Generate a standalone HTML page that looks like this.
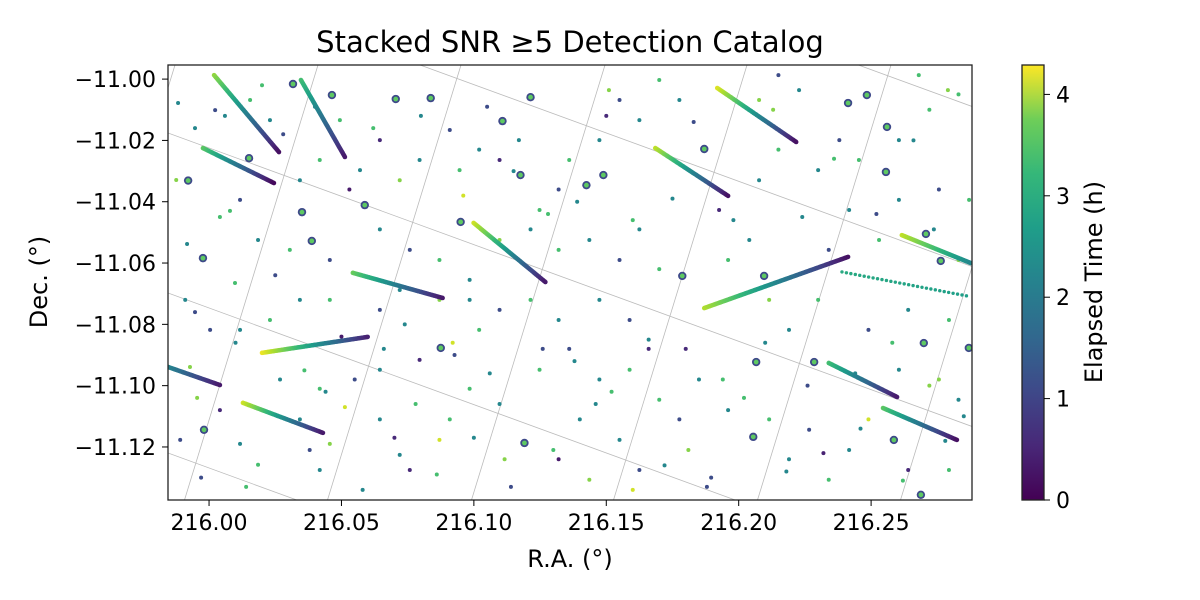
<!DOCTYPE html>
<html><head><meta charset="utf-8"><style>
html,body{margin:0;padding:0;background:#fff;overflow:hidden;width:1200px;height:600px}
svg{display:block}
svg text{font-family:"DejaVu Sans","Liberation Sans",sans-serif;fill:#000}
</style></head><body>
<svg id="chart" width="1200" height="600" viewBox="0 0 1200 600">
<defs>
<linearGradient id="vir" x1="0" y1="1" x2="0" y2="0">
<stop offset="0" stop-color="#440154"/><stop offset="0.125" stop-color="#482878"/><stop offset="0.25" stop-color="#3e4989"/><stop offset="0.375" stop-color="#31688e"/><stop offset="0.5" stop-color="#26828e"/><stop offset="0.625" stop-color="#1f9e89"/><stop offset="0.75" stop-color="#35b779"/><stop offset="0.875" stop-color="#6ece58"/><stop offset="1" stop-color="#fde725"/>
</linearGradient>
<clipPath id="plotclip"><rect x="168" y="65" width="804" height="435"/></clipPath>
</defs>
<text x="570" y="52" font-size="29" text-anchor="middle">Stacked SNR ≥5 Detection Catalog</text>
<g id="grid" clip-path="url(#plotclip)"></g>
<g id="marks" clip-path="url(#plotclip)"></g>
<rect x="168" y="65" width="804" height="435" fill="none" stroke="#222" stroke-width="1.3"/>
<g id="axes"></g>
<text x="570" y="567" font-size="24" text-anchor="middle">R.A. (°)</text>
<text transform="translate(47,282) rotate(-90)" font-size="24" text-anchor="middle">Dec. (°)</text>
<rect x="1022" y="65" width="22" height="435" fill="url(#vir)" stroke="#222" stroke-width="1.3"/>
<g id="cbticks"></g>
<text transform="translate(1102,282) rotate(-90)" font-size="24" text-anchor="middle">Elapsed Time (h)</text>
</svg>
<script>
// offsets: RA in millidegrees from 216, Dec in millidegrees from -11
const xTicks=[216.00,216.05,216.10,216.15,216.20,216.25];
const yTicks=[-11.00,-11.02,-11.04,-11.06,-11.08,-11.10,-11.12];
const cTicks=[0,1,2,3,4];
const streakRa0=[1.9,-2.3,34.7,99.9,54.3,20,-15.5,12.8,191.9,168.5,261.6,187,239,234,254.5];
const streakRa1=[26.4,24.5,51.3,127,88.2,59.9,4.1,43,221.7,196,287.6,241.3,286,259.8,282.4];
const streakDec0=[1.3,-22.5,-0.3,-46.9,-63.2,-89.3,-93.9,-105.6,-2.9,-22.5,-50.9,-74.7,-62.9,-92.6,-107.3];
const streakDec1=[-23.8,-33.9,-25.4,-66.2,-71.4,-84.1,-99.8,-115.4,-20.5,-38.1,-60,-58,-70.7,-103.7,-117.7];
const streakT0=[3.6,3.2,3.0,4.0,3.3,4.2,2.0,4.0,4.1,3.9,3.9,3.8,2.6,3.0,3.2];
const streakT1=[0.2,0.1,0.3,0.3,0.3,0.4,0.3,0.3,0.2,0.2,2.0,0.2,2.4,0.3,0.2];
const streakDotted=[0,0,0,0,0,0,0,0,0,0,0,0,1,0,0];
const srcRa=[31.7,46.4,70.5,83.7,110.8,121.4,15.1,-7.9,58.8,35.1,95.0,117.6,-2.3,38.8,248.4,241.3,256.0,187.0,148.9,142.5,255.6,270.7,276.3,209.6,178.7,205.5,206.6,228.5,269.9,258.6,119.1,-1.9,87.5,286.9,268.8];
const srcDec=[-1.6,-5.2,-6.5,-6.2,-13.7,-5.9,-25.8,-33.1,-41.1,-43.4,-46.6,-31.3,-58.4,-52.8,-5.2,-7.8,-15.6,-22.8,-31.3,-34.6,-30.3,-50.5,-59.3,-64.2,-64.2,-116.7,-92.3,-92.3,-86.1,-117.7,-118.7,-114.4,-87.7,-87.7,-135.6];
const dotRa=[-11.7,-5.3,2.3,-12.4,-8.3,4.1,7.9,-9,-5.3,9.8,-7.2,-4.5,4.1,11.7,-10.9,18.5,34.3,38,41.8,45.6,51.3,55,64.5,72,75.8,90.9,98.4,87,79.5,73.9,92.7,102,109.7,111.6,132,140,143.6,155,162.5,170,177.6,185,189.6,181,196,211.5,219,226.6,234,241.7,249,264,279.4,283,275.6,260.5,249,264,279.4,283,273.7,287,275.6,260.5,253,241.7,234,230,219,211.5,204,196,192.6,207.7,215,230,238,245.4,260.5,272,279,268,222.8,215,207.7,177.6,170,162.5,155,147.4,136,132,124.8,117,109.7,102,94.6,90.9,79.5,72,64.5,57,49.4,41.8,34.3,23,15.5,11.7,18.5,30.5,45.6,64.5,75.8,87,98.4,109.7,121.4,132,143.6,155,162.5,170,147.4,158.8,132,121.4,109.7,98.4,87,72,64.5,45.6,34.3,23,11.7,0.4,26.8,41.8,64.5,124.8,136,147.4,158.8,166,151,
 6,20,28,40,53,62,80,96,105,115,128,139,150,160,175,183,198,213,224,236,252,266,283,10,25,36,50,66,78,92,106,126,138,152,166,180,194,210,226,244,258,272,285,-3,14,44,58,70,86,100,114,130,146,160,172,188,202,218,232,246,262,278];
const dotDec=[-7.8,-16,-10.1,-32.9,-53.8,-45,-43,-72,-76,-66.5,-93.9,-104,-108,-119,-117.7,-125.8,-111,-121,-127.5,-119,-107,-98,-111,-122.6,-127.5,-111,-101,-117.7,-91.6,-80,-90,-81.8,-106,-124,-124,-111,-130.7,-117.7,-127.5,-104.6,-111,-98,-130,-121,-108,-111,-124,-114.4,-130.7,-121,-111,-127.5,-127.5,-104.6,-98,-94.8,-81.8,-75.3,-78.6,-59,-49,-39.4,-36,-39.4,-52.5,-42.7,-55.7,-72,-81.8,-72,-52.5,-59,-42.7,-33,-23,-29.7,-19.9,-26.4,-19.9,-10,-3.6,1.3,-3.6,1.3,-6.8,-6.8,-0.3,-13.4,-6.8,-19.9,-26.4,-36,-42.7,-19.9,-26.4,-23,-29.7,-16.6,-26.4,-33,-19.9,-29.7,-13.4,-26.4,-33,-13.4,-6.8,-39.4,-52.5,-55.7,-59,-49,-55.7,-59,-65.5,-52.5,-49,-55.7,-52.5,-59,-49,-62,-72,-78.6,-78.6,-72,-75.3,-72,-72,-68.8,-75.3,-72,-72,-78.6,-81.8,-81.8,-98,-101,-94.8,-94.8,-88,-98,-94.8,-88,-3.6,
 -12,-2,-18,-9,-36,-16,-12,-38,-9,-30,-44,-40,-12,-46,-39,-14,-46,-10,-45,-26,-44,-20,-5,-86,-64,-95,-84,-88,-106,-86,-96,-88,-92,-102,-85,-88,-98,-86,-100,-96,-86,-100,-110,-130,-133,-102,-134,-117,-129,-117,-133,-121,-106,-134,-126,-133,-104,-128,-122,-114,-131,-118];
const dotT=[2,2,1,3.5,2,3,3,2,1,3,3.5,3.5,0.5,2,1,3,2,1,2,3.5,4,1,2,2,0.5,3,3,4,0.5,2,1,3,2,3.5,0.3,2,3.5,2,1,3,1,2,1,3.5,2,3,2,1,3,2,4,0.5,3,2,3.5,2,1,2,3,3.5,2,3,1,2,3,2,1,3,2,3.5,2,3,0.5,2,3,2,1,3,2,3,3.5,3,2,1,3.5,2,3,2,1,2,3,1,3,2,0.5,2,3,1,2,3.5,0.5,2,3,3,2,2,3,1,2,3,1,2,1,3,2,3.5,2,3,2,1,2,3,2,1,2,3,1,2,3.5,2,1,3,2,3,2,1,2,3,2,3,1,2,3,0.5,3.5,
 2,3,1,2,0.3,3,2,4,1,2,3,2,0.5,3,2,1,2,3.5,2,3,1,2,3,2,1,3,0.3,2,3,4,2,1,2,3,2,0.5,3,2,1,2,3,3.5,2,1,3,2,2,0.5,3,2,1,3,2,4,2,1,3,2,0.4,2,3,2];

const NS='http://www.w3.org/2000/svg';
const X0=215.9845,X1=216.2881,Y0=-10.9954,Y1=-11.1373,TMAX=4.29;
function xs(ra){return 168+(ra-X0)/(X1-X0)*804;}
function ys(d){return 65+(d-Y0)/(Y1-Y0)*435;}
function cy(t){return 500-t/TMAX*435;}
const V=[[68,1,84],[72,40,120],[62,73,137],[49,104,142],[38,130,142],[31,158,137],[53,183,121],[110,206,88],[181,222,43],[253,231,37]];
function vir(t){let u=Math.max(0,Math.min(1,t/TMAX))*(V.length-1);let i=Math.min(V.length-2,Math.floor(u)),f=u-i;
 const c=V[i].map((v,k)=>Math.round(v+(V[i+1][k]-v)*f));return 'rgb('+c.join(',')+')';}
function mk(tag,attrs,parent){const e=document.createElementNS(NS,tag);for(const k in attrs)e.setAttribute(k,attrs[k]);parent.appendChild(e);return e;}
const grid=document.getElementById('grid'),marks=document.getElementById('marks'),axes=document.getElementById('axes'),cb=document.getElementById('cbticks');
[175,318,461,605,747,891,1034].forEach(x=>{const l=mk('line',{x1:x,y1:65,x2:x-133.5,y2:500,stroke:'#bbb','stroke-width':0.8},grid);

});
[-187,-27,133,293,453].forEach(y=>{const l=mk('line',{x1:168,y1:y,x2:972,y2:y+0.365*804,stroke:'#bbb','stroke-width':0.8},grid);

});
for(let i=0;i<dotRa.length;i++){const c=mk('circle',{cx:xs(216+dotRa[i]/1000),cy:ys(-11+dotDec[i]/1000),r:2,fill:vir(dotT[i])},marks);

}
for(let i=0;i<srcRa.length;i++){const x=xs(216+srcRa[i]/1000),y=ys(-11+srcDec[i]/1000);
const c=mk('circle',{cx:x,cy:y,r:4.2,fill:'#3e4989'},marks);


const c2=mk('circle',{cx:x,cy:y,r:2.4,fill:'#5ec962'},marks);

}
for(let s=0;s<streakRa0.length;s++){const g=mk('g',{},marks);


const x0=xs(216+streakRa0[s]/1000),x1=xs(216+streakRa1[s]/1000),y0=ys(-11+streakDec0[s]/1000),y1=ys(-11+streakDec1[s]/1000);
const len=Math.hypot(x1-x0,y1-y0),n=streakDotted[s]?Math.round(len/4.5):Math.round(len/1.2);
for(let k=0;k<=n;k++){const f=k/n;mk('circle',{cx:x0+(x1-x0)*f,cy:y0+(y1-y0)*f,r:streakDotted[s]?1.7:2.3,fill:vir(streakT0[s]+(streakT1[s]-streakT0[s])*f)},g);}}
xTicks.forEach(v=>{const x=xs(v);mk('line',{x1:x,y1:500,x2:x,y2:506,stroke:'#000','stroke-width':1},axes);
const t=mk('text',{x:x,y:530,'font-size':22,'text-anchor':'middle'},axes);t.textContent=v.toFixed(2);

});
yTicks.forEach(v=>{const y=ys(v);mk('line',{x1:162,y1:y,x2:168,y2:y,stroke:'#000','stroke-width':1},axes);
const t=mk('text',{x:156,y:y+8,'font-size':22,'text-anchor':'end'},axes);t.textContent='\u2212'+Math.abs(v).toFixed(2);

});
cTicks.forEach(v=>{const y=cy(v);mk('line',{x1:1044,y1:y,x2:1050,y2:y,stroke:'#000','stroke-width':1},cb);
const t=mk('text',{x:1056,y:y+8,'font-size':22},cb);t.textContent=v;

});
</script>
</body></html>
